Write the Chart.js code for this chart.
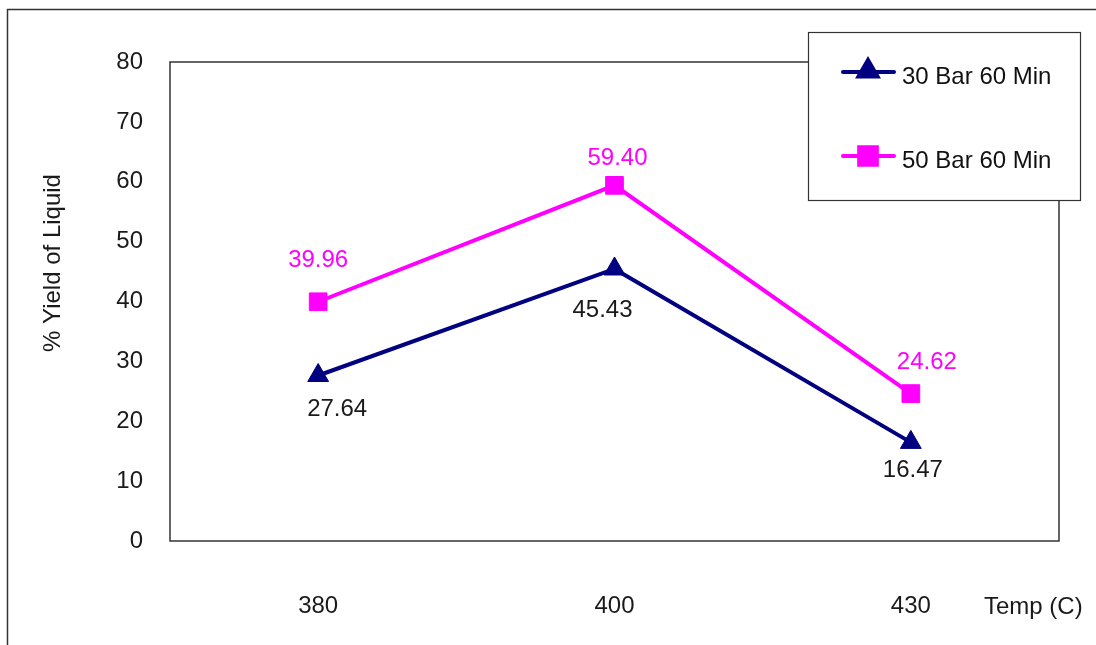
<!DOCTYPE html>
<html>
<head>
<meta charset="utf-8">
<script src="https://cdn.jsdelivr.net/npm/chart.js@4/dist/chart.umd.min.js"></script>
<style>
  html, body { margin: 0; padding: 0; background: #ffffff; }
  #c { display: block; }
</style>
</head>
<body>
<canvas id="c" width="1096" height="645"></canvas>
<script>
// Reaction temperature categories (°C)
const temps = ['380', '400', '430'];
// Liquid yield (%) for each pressure condition
const yield30bar = [27.64, 45.43, 16.47];
const yield50bar = [39.96, 59.40, 24.62];
// Axis settings
const yMin = 0;
const yMax = 80;
const yStep = 10;
const seriesNames = ['30 Bar 60 Min', '50 Bar 60 Min'];

const FONT = '"Liberation Sans", Arial, sans-serif';
const FSIZE = 24;

// Where each value label sits relative to its point (pixels)
const labelPlacement = [
  [{dx: 19, dy: 34}, {dx: -12, dy: 41}, {dx: 2, dy: 28}],
  [{dx: 0, dy: -41}, {dx: 3, dy: -27}, {dx: 16, dy: -31}]
];

const decorPlugin = {
  id: 'decor',
  beforeDraw(chart) {
    const ctx = chart.ctx;
    ctx.save();
    ctx.fillStyle = '#ffffff';
    ctx.fillRect(0, 0, chart.width, chart.height);
    // outer frame (top and left edges visible)
    ctx.strokeStyle = '#333333';
    ctx.lineWidth = 1.5;
    ctx.beginPath();
    ctx.moveTo(7.5, chart.height);
    ctx.lineTo(7.5, 9.5);
    ctx.lineTo(chart.width, 9.5);
    ctx.stroke();
    ctx.restore();
  },
  beforeDatasetsDraw(chart) {
    const ctx = chart.ctx;
    const a = chart.chartArea;
    ctx.save();
    ctx.strokeStyle = '#333333';
    ctx.lineWidth = 1.5;
    ctx.strokeRect(a.left, a.top, a.right - a.left, a.bottom - a.top);

    // axis titles
    ctx.fillStyle = '#1a1a1a';
    ctx.font = FSIZE + 'px ' + FONT;
    ctx.textAlign = 'left';
    ctx.textBaseline = 'middle';
    ctx.fillText('Temp (C)', 984, 607);

    ctx.translate(53, 263);
    ctx.rotate(-Math.PI / 2);
    ctx.textAlign = 'center';
    ctx.fillText('% Yield of Liquid', 0, 0);
    ctx.restore();
  },
  afterDatasetsDraw(chart) {
    const ctx = chart.ctx;
    ctx.save();
    ctx.font = FSIZE + 'px ' + FONT;
    ctx.textAlign = 'center';
    ctx.textBaseline = 'middle';
    chart.data.datasets.forEach((ds, di) => {
      const meta = chart.getDatasetMeta(di);
      ctx.fillStyle = ds.labelColor;
      meta.data.forEach((pt, i) => {
        const off = labelPlacement[di][i];
        ctx.fillText(ds.data[i].toFixed(2), pt.x + off.dx, pt.y + off.dy);
      });
    });
    ctx.restore();
  },
  afterDraw(chart) {
    // legend box
    const ctx = chart.ctx;
    const bx = 808, by = 32, bw = 272, bh = 168;
    ctx.save();
    ctx.fillStyle = '#ffffff';
    ctx.fillRect(bx, by, bw, bh);
    ctx.strokeStyle = '#333333';
    ctx.lineWidth = 1.2;
    ctx.strokeRect(bx + 0.5, by + 0.5, bw, bh);
    const rows = [72, 156];
    chart.data.datasets.forEach((ds, di) => {
      const y = rows[di];
      ctx.strokeStyle = ds.borderColor;
      ctx.lineWidth = 4;
      ctx.lineCap = 'round';
      ctx.beginPath();
      ctx.moveTo(843, y);
      ctx.lineTo(894, y);
      ctx.stroke();
      ctx.fillStyle = ds.backgroundColor;
      Chart.helpers.drawPoint(ctx, {
        pointStyle: ds.pointStyle,
        radius: ds.pointStyle === 'triangle' ? 11 : 12.5,
        borderWidth: 1
      }, 868, ds.pointStyle === 'triangle' ? y - 1 : y);
      ctx.fillStyle = '#111111';
      ctx.font = FSIZE + 'px ' + FONT;
      ctx.textAlign = 'left';
      ctx.textBaseline = 'middle';
      ctx.fillText(ds.label, 902, y + 5);
    });
    ctx.restore();
  }
};

new Chart(document.getElementById('c'), {
  type: 'line',
  data: {
    labels: temps,
    datasets: [
      {
        label: seriesNames[0],
        data: yield30bar,
        borderColor: '#000080',
        backgroundColor: '#000080',
        labelColor: '#1a1a1a',
        borderWidth: 4,
        pointStyle: 'triangle',
        pointRadius: 12,
        pointBorderWidth: 1,
        tension: 0
      },
      {
        label: seriesNames[1],
        data: yield50bar,
        borderColor: '#ff00ff',
        backgroundColor: '#ff00ff',
        labelColor: '#ff00ff',
        borderWidth: 4,
        pointStyle: 'rect',
        pointRadius: 12.5,
        pointBorderWidth: 1,
        tension: 0
      }
    ]
  },
  options: {
    responsive: false,
    animation: false,
    devicePixelRatio: 1,
    layout: { padding: { top: 62, right: 37, left: 0, bottom: 0 } },
    plugins: {
      legend: { display: false },
      tooltip: { enabled: false }
    },
    scales: {
      x: {
        type: 'category',
        offset: true,
        grid: { display: false, drawTicks: false },
        border: { display: false },
        ticks: {
          color: '#1a1a1a',
          font: { family: FONT, size: FSIZE },
          padding: 51,
          maxRotation: 0
        },
        afterFit(scale) { scale.height = 104; }
      },
      y: {
        min: yMin,
        max: yMax,
        grid: { display: false, drawTicks: false },
        border: { display: false },
        ticks: {
          stepSize: yStep,
          color: '#1a1a1a',
          font: { family: FONT, size: FSIZE },
          padding: 27
        },
        afterFit(scale) { scale.width = 170; }
      }
    }
  },
  plugins: [decorPlugin]
});
</script>
</body>
</html>
